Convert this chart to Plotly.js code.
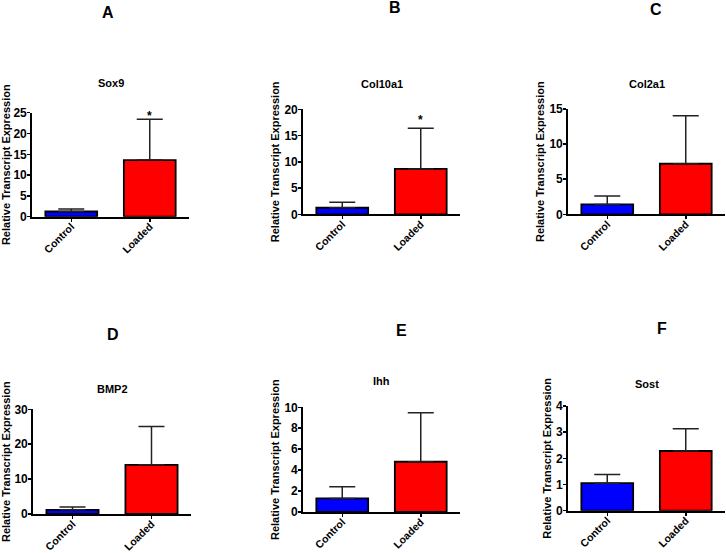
<!DOCTYPE html>
<html>
<head>
<meta charset="utf-8">
<script src="https://cdn.plot.ly/plotly-3.0.1.min.js"></script>
<style>html,body{margin:0;padding:0;background:#fff;}#chart{width:726px;height:553px;}</style>
</head>
<body>
<div id="chart"></div>
<script>
// ---- data ----
const categories = ['Control', 'Loaded'];
const genes = ['Sox9', 'Col10a1', 'Col2a1', 'BMP2', 'Ihh', 'Sost'];
const panelLetters = ['A', 'B', 'C', 'D', 'E', 'F'];
const sox9Mean = [1.25, 13.6];   const sox9Err = [0.6, 9.8];
const col10a1Mean = [1.25, 8.65]; const col10a1Err = [1.05, 7.75];
const col2a1Mean = [1.4, 7.2];   const col2a1Err = [1.2, 6.85];
const bmp2Mean = [1.2, 14.1];    const bmp2Err = [0.8, 10.95];
const ihhMean = [1.3, 4.8];      const ihhErr = [1.12, 4.68];
const sostMean = [1.05, 2.28];   const sostErr = [0.33, 0.85];
const yMax = [25, 20, 15, 30, 10, 4];
const yDtick = [5, 5, 5, 10, 2, 1];
// significance marker (y value of the asterisk, null = none)
const starLevel = [24.85, 18.5, null, null, null, null];
const yTitle = 'Relative Transcript Expression';

const means = [sox9Mean, col10a1Mean, col2a1Mean, bmp2Mean, ihhMean, sostMean];
const errs = [sox9Err, col10a1Err, col2a1Err, bmp2Err, ihhErr, sostErr];

// ---- layout geometry (pixels) ----
const W = 726, H = 553;
const boxes = [
  {x0: 32, x1: 189, yTop: 112.7, yBot: 216.7, lx: 107.5, ly: 12.5, tx: 110.7, ty: 83},
  {x0: 303, x1: 460, yTop: 109.3, yBot: 214.3, lx: 394.5, ly: 7.5, tx: 381.5, ty: 84},
  {x0: 568, x1: 725, yTop: 109, yBot: 214.3, lx: 656, ly: 10, tx: 647, ty: 84},
  {x0: 33, x1: 191, yTop: 409.3, yBot: 514, lx: 112.5, ly: 334, tx: 112.5, ty: 389},
  {x0: 303, x1: 460, yTop: 407.3, yBot: 512, lx: 401.5, ly: 330.5, tx: 381, ty: 381},
  {x0: 568, x1: 725, yTop: 406, yBot: 510.7, lx: 661.5, ly: 328, tx: 647, ty: 384}
];
const px = v => v / W;
const py = v => 1 - v / H;

const FONT = 'Liberation Sans, Arial, sans-serif';
const barColors = ['#0000ff', '#ff0000'];

const traces = [];
const layout = {
  width: W, height: H,
  margin: {l: 0, r: 0, t: 0, b: 0},
  paper_bgcolor: '#fff', plot_bgcolor: 'rgba(0,0,0,0)',
  showlegend: false,
  font: {family: FONT, color: '#000'},
  annotations: []
};

for (let i = 0; i < 6; i++) {
  const s = i === 0 ? '' : String(i + 1);
  const b = boxes[i];
  traces.push({
    type: 'bar',
    x: categories,
    y: means[i],
    xaxis: 'x' + s, yaxis: 'y' + s,
    width: 0.66,
    marker: {color: barColors, line: {color: '#000', width: 1.8}},
    error_y: {type: 'data', symmetric: false, array: errs[i], arrayminus: [0, 0],
              color: '#222', thickness: 1.5, width: 13},
    hoverinfo: 'x+y'
  });
  layout['xaxis' + s] = {
    domain: [px(b.x0), px(b.x1)],
    anchor: 'y' + s,
    range: [-0.5, 1.5],
    showline: true, linecolor: '#000', linewidth: 1.8,
    ticks: 'outside', ticklen: 3, tickwidth: 1.5, tickcolor: '#000',
    tickangle: -45,
    ticklabelstandoff: -5,
    tickfont: {family: FONT, size: 10.5, weight: 'bold', color: '#000'},
    showgrid: false, zeroline: false, fixedrange: true
  };
  layout['yaxis' + s] = {
    domain: [py(b.yBot), py(b.yTop)],
    anchor: 'x' + s,
    range: [0, yMax[i]],
    dtick: yDtick[i], tick0: 0,
    showline: true, linecolor: '#000', linewidth: 1.8,
    ticks: 'outside', ticklen: 3, tickwidth: 1.5, tickcolor: '#000',
    ticklabelstandoff: -2,
    tickfont: {family: FONT, size: 12, weight: 'bold', color: '#000'},
    showgrid: false, zeroline: false, fixedrange: true,
    title: {text: yTitle, font: {family: FONT, size: 11, weight: 'bold', color: '#000'}, standoff: 2}
  };
  layout.annotations.push({
    xref: 'paper', yref: 'paper', x: px(b.lx), y: py(b.ly),
    xanchor: 'center', yanchor: 'middle', showarrow: false,
    text: panelLetters[i], font: {family: FONT, size: 16, weight: 'bold', color: '#000'}
  });
  layout.annotations.push({
    xref: 'paper', yref: 'paper', x: px(b.tx), y: py(b.ty),
    xanchor: 'center', yanchor: 'middle', showarrow: false,
    text: genes[i], font: {family: FONT, size: 11, weight: 'bold', color: '#000'}
  });
  if (starLevel[i] !== null) {
    layout.annotations.push({
      xref: 'x' + s, yref: 'y' + s, x: categories[1], y: starLevel[i],
      xanchor: 'center', yanchor: 'middle', showarrow: false, yshift: -3,
      text: '*', font: {family: FONT, size: 12, weight: 'bold', color: '#000'}
    });
  }
}

Plotly.newPlot('chart', traces, layout, {staticPlot: true, displayModeBar: false});
</script>
</body>
</html>
